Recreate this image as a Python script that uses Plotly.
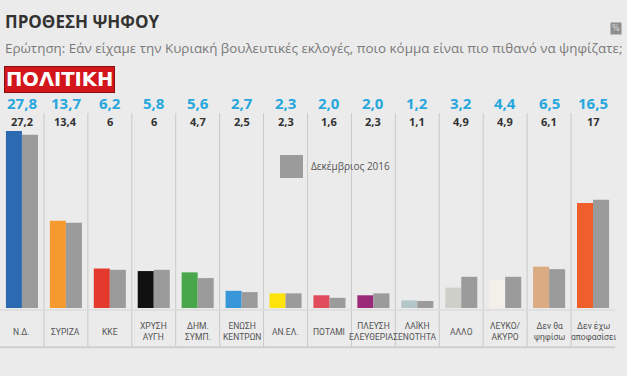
import plotly.graph_objects as go

categories = ["Ν.Δ.", "ΣΥΡΙΖΑ", "ΚΚΕ", "ΧΡΥΣΗ ΑΥΓΗ", "ΔΗΜ. ΣΥΜΠ.", "ΕΝΩΣΗ ΚΕΝΤΡΩΝ", "ΑΝ.ΕΛ.",
              "ΠΟΤΑΜΙ", "ΠΛΕΥΣΗ ΕΛΕΥΘΕΡΙΑΣ", "ΛΑΪΚΗ ΕΝΟΤΗΤΑ", "ΑΛΛΟ", "ΛΕΥΚΟ/ ΑΚΥΡΟ",
              "Δεν θα ψηφίσω", "Δεν έχω αποφασίσει"]
tick_labels = ["Ν.Δ.", "ΣΥΡΙΖΑ", "ΚΚΕ", "ΧΡΥΣΗ<br>ΑΥΓΗ", "ΔΗΜ.<br>ΣΥΜΠ.", "ΕΝΩΣΗ<br>ΚΕΝΤΡΩΝ", "ΑΝ.ΕΛ.",
               "ΠΟΤΑΜΙ", "ΠΛΕΥΣΗ<br>ΕΛΕΥΘΕΡΙΑΣ", "ΛΑΪΚΗ<br>ΕΝΟΤΗΤΑ", "ΑΛΛΟ", "ΛΕΥΚΟ/<br>ΑΚΥΡΟ",
               "Δεν θα<br>ψηφίσω", "Δεν έχω<br>αποφασίσει"]
current = [27.8, 13.7, 6.2, 5.8, 5.6, 2.7, 2.3, 2.0, 2.0, 1.2, 3.2, 4.4, 6.5, 16.5]
december_2016 = [27.2, 13.4, 6, 6, 4.7, 2.5, 2.3, 1.6, 2.3, 1.1, 4.9, 4.9, 6.1, 17]
party_colors = ["#2c6bb2", "#f59a2e", "#e4392d", "#111111", "#48a74b", "#3797d8", "#fde30a",
                "#e14c5c", "#9a2a78", "#b3c6ca", "#cfcfca", "#f3f0ea", "#dbab84", "#ef5f2c"]
legend_label = "Δεκέμβριος 2016"
title = "ΠΡΟΘΕΣΗ ΨΗΦΟΥ"
subtitle = "Ερώτηση: Εάν είχαμε την Κυριακή βουλευτικές εκλογές, ποιο κόμμα είναι πιο πιθανό να ψηφίζατε;"
logo = "ΠΟΛΙΤΙΚΗ"

def fmt(v):
    return ("%.1f" % v).replace(".", ",")

def fmt2(v):
    return str(int(v)) if float(v).is_integer() else fmt(v)

BG = "#ebebeb"
GRAY = "#9b9b9b"

fig = go.Figure()
fig.add_trace(go.Bar(x=categories, y=current, marker=dict(color=party_colors, line=dict(width=0)),
                     showlegend=False, hoverinfo="skip"))
fig.add_trace(go.Bar(x=categories, y=december_2016, marker=dict(color=GRAY, line=dict(width=0)),
                     showlegend=False, hoverinfo="skip"))

y_top_val = 32.2
y_bot_val = 29.35
y_label = -3.7

shapes = []
for i in range(len(categories) - 1):
    shapes.append(dict(type="line", xref="x", yref="y", x0=i + 0.5, x1=i + 0.5, y0=30.6, y1=-6.1,
                       line=dict(color="#c9c9c9", width=1)))
shapes.append(dict(type="line", xref="x", yref="y", x0=-0.5, x1=len(categories) - 0.5, y0=-0.3, y1=-0.3,
                   line=dict(color="#dcdcdc", width=1.5)))
shapes.append(dict(type="line", xref="x", yref="y", x0=-0.5, x1=len(categories) - 0.5, y0=-6.15, y1=-6.15,
                   line=dict(color="#cfcfcf", width=2)))
shapes.append(dict(type="rect", xref="paper", yref="paper",
                   x0=280 / 615, x1=303 / 615, y0=(350 - 178) / 255, y1=(350 - 155) / 255,
                   fillcolor=GRAY, line=dict(width=0)))

annotations = []
for c, v, d, lab in zip(categories, current, december_2016, tick_labels):
    annotations.append(dict(x=c, y=y_top_val, text="<b>%s</b>" % fmt(v), showarrow=False,
                            font=dict(family="Open Sans", size=15, color="#27a7dd"), yanchor="middle"))
    annotations.append(dict(x=c, y=y_bot_val, text="<b>%s</b>" % fmt2(d), showarrow=False,
                            font=dict(family="Open Sans", size=11, color="#333333"), yanchor="middle"))
    annotations.append(dict(x=c, y=y_label, text=lab, showarrow=False,
                            font=dict(family="Roboto", size=8.5, color="#555555"),
                            yanchor="middle"))

annotations.append(dict(xref="paper", yref="paper", x=309 / 615, y=(350 - 166) / 255, text=legend_label,
                        showarrow=False, xanchor="left", yanchor="middle",
                        font=dict(family="Open Sans", size=10, color="#555555")))
annotations.append(dict(xref="paper", yref="paper", x=3 / 615, y=(350 - 22) / 255, text="<b>%s</b>" % title,
                        showarrow=False, xanchor="left", yanchor="middle",
                        font=dict(family="Open Sans", size=17, color="#333333")))
annotations.append(dict(xref="paper", yref="paper", x=3 / 615, y=(350 - 48) / 255, text=subtitle,
                        showarrow=False, xanchor="left", yanchor="middle",
                        font=dict(family="Open Sans", size=13.4, color="#7a7a7a")))
annotations.append(dict(xref="paper", yref="paper", x=4 / 615, y=(350 - 79) / 255, text="<b>%s</b>" % logo,
                        showarrow=False, xanchor="left", yanchor="middle", bgcolor="#d3151c",
                        borderpad=1, bordercolor="#8a0d10", borderwidth=1,
                        font=dict(family="DejaVu Sans", size=19.5, color="#ffffff")))
annotations.append(dict(xref="paper", yref="paper", x=616 / 615, y=(350 - 28) / 255, text="%",
                        showarrow=False, xanchor="center", yanchor="middle", bgcolor="#8d8d8d",
                        borderpad=1, font=dict(family="DejaVu Sans", size=8, color="#dddddd")))

fig.update_layout(
    width=627, height=376,
    margin=dict(l=0, r=12, t=95, b=26),
    paper_bgcolor=BG, plot_bgcolor=BG,
    barmode="group", bargap=0.27, bargroupgap=0,
    xaxis=dict(range=[-0.5, len(categories) - 0.5], showticklabels=False, showgrid=False,
               zeroline=False, showline=False, fixedrange=True),
    yaxis=dict(range=[-6.59, 33.44], showticklabels=False, showgrid=False, zeroline=False,
               showline=False, fixedrange=True),
    shapes=shapes, annotations=annotations,
)

fig.write_html("out.html", post_script="document.body.style.margin='0';document.body.style.background='%s';" % BG,
               config={"displayModeBar": False})
